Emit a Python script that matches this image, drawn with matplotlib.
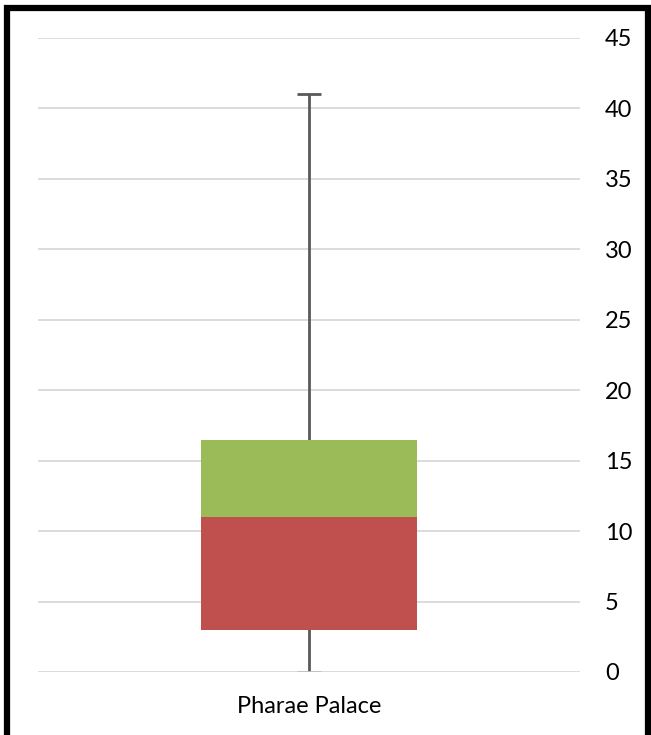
import matplotlib
matplotlib.use("Agg")
import matplotlib.pyplot as plt
from matplotlib.patches import Rectangle

# box plot summary for one location
category = ["Pharae Palace"]
q_min = [0]
q1 = [3]
median = [11]
q3 = [16.5]
q_max = [41]
y_ticks = [0, 5, 10, 15, 20, 25, 30, 35, 40, 45]

plt.rcParams['font.family'] = ['Lato', 'DejaVu Sans']

W, H = 651, 735
fig = plt.figure(figsize=(W / 100, H / 100), dpi=100)
ax = fig.add_axes([38 / W, (H - 672) / H, (580 - 38) / W, (672 - 38) / H])

x = list(range(len(category)))
lower = [m - a for m, a in zip(median, q1)]
upper = [b - m for b, m in zip(q3, median)]

# whiskers behind the box
ax.vlines(x, q_min, q_max, color='#595959', lw=2, zorder=2)
ax.hlines(q_max, [i - 0.055 for i in x], [i + 0.055 for i in x], color='#595959', lw=2, zorder=2)
ax.hlines(q_min, [i - 0.055 for i in x], [i + 0.055 for i in x], color='#BFBFBF', lw=2, zorder=2)

ax.bar(x, lower, bottom=q1, width=1.0, color='#C0504D', zorder=3)
ax.bar(x, upper, bottom=median, width=1.0, color='#9BBB59', zorder=3)

ax.set_xlim(-1.25, 1.25)
ax.set_ylim(0, 45)
ax.set_yticks(y_ticks)
ax.yaxis.tick_right()
ax.set_xticks(x)
ax.set_xticklabels(category)
ax.tick_params(axis='y', length=0, pad=18, labelsize=17, labelcolor='black')
ax.tick_params(axis='x', length=0, pad=17, labelsize=17, labelcolor='black')
ax.grid(axis='y', color='#D9D9D9', lw=1.3, zorder=0)
ax.set_axisbelow(True)
for s in ax.spines.values():
    s.set_visible(False)

# thick frame around the whole chart
fig.patches.append(Rectangle((7 / W, -0.05), (648 - 7) / W, 1.05 - 8 / H,
                             transform=fig.transFigure, fill=False,
                             edgecolor='black', lw=4.5))

fig.savefig("out.png", dpi=100)
